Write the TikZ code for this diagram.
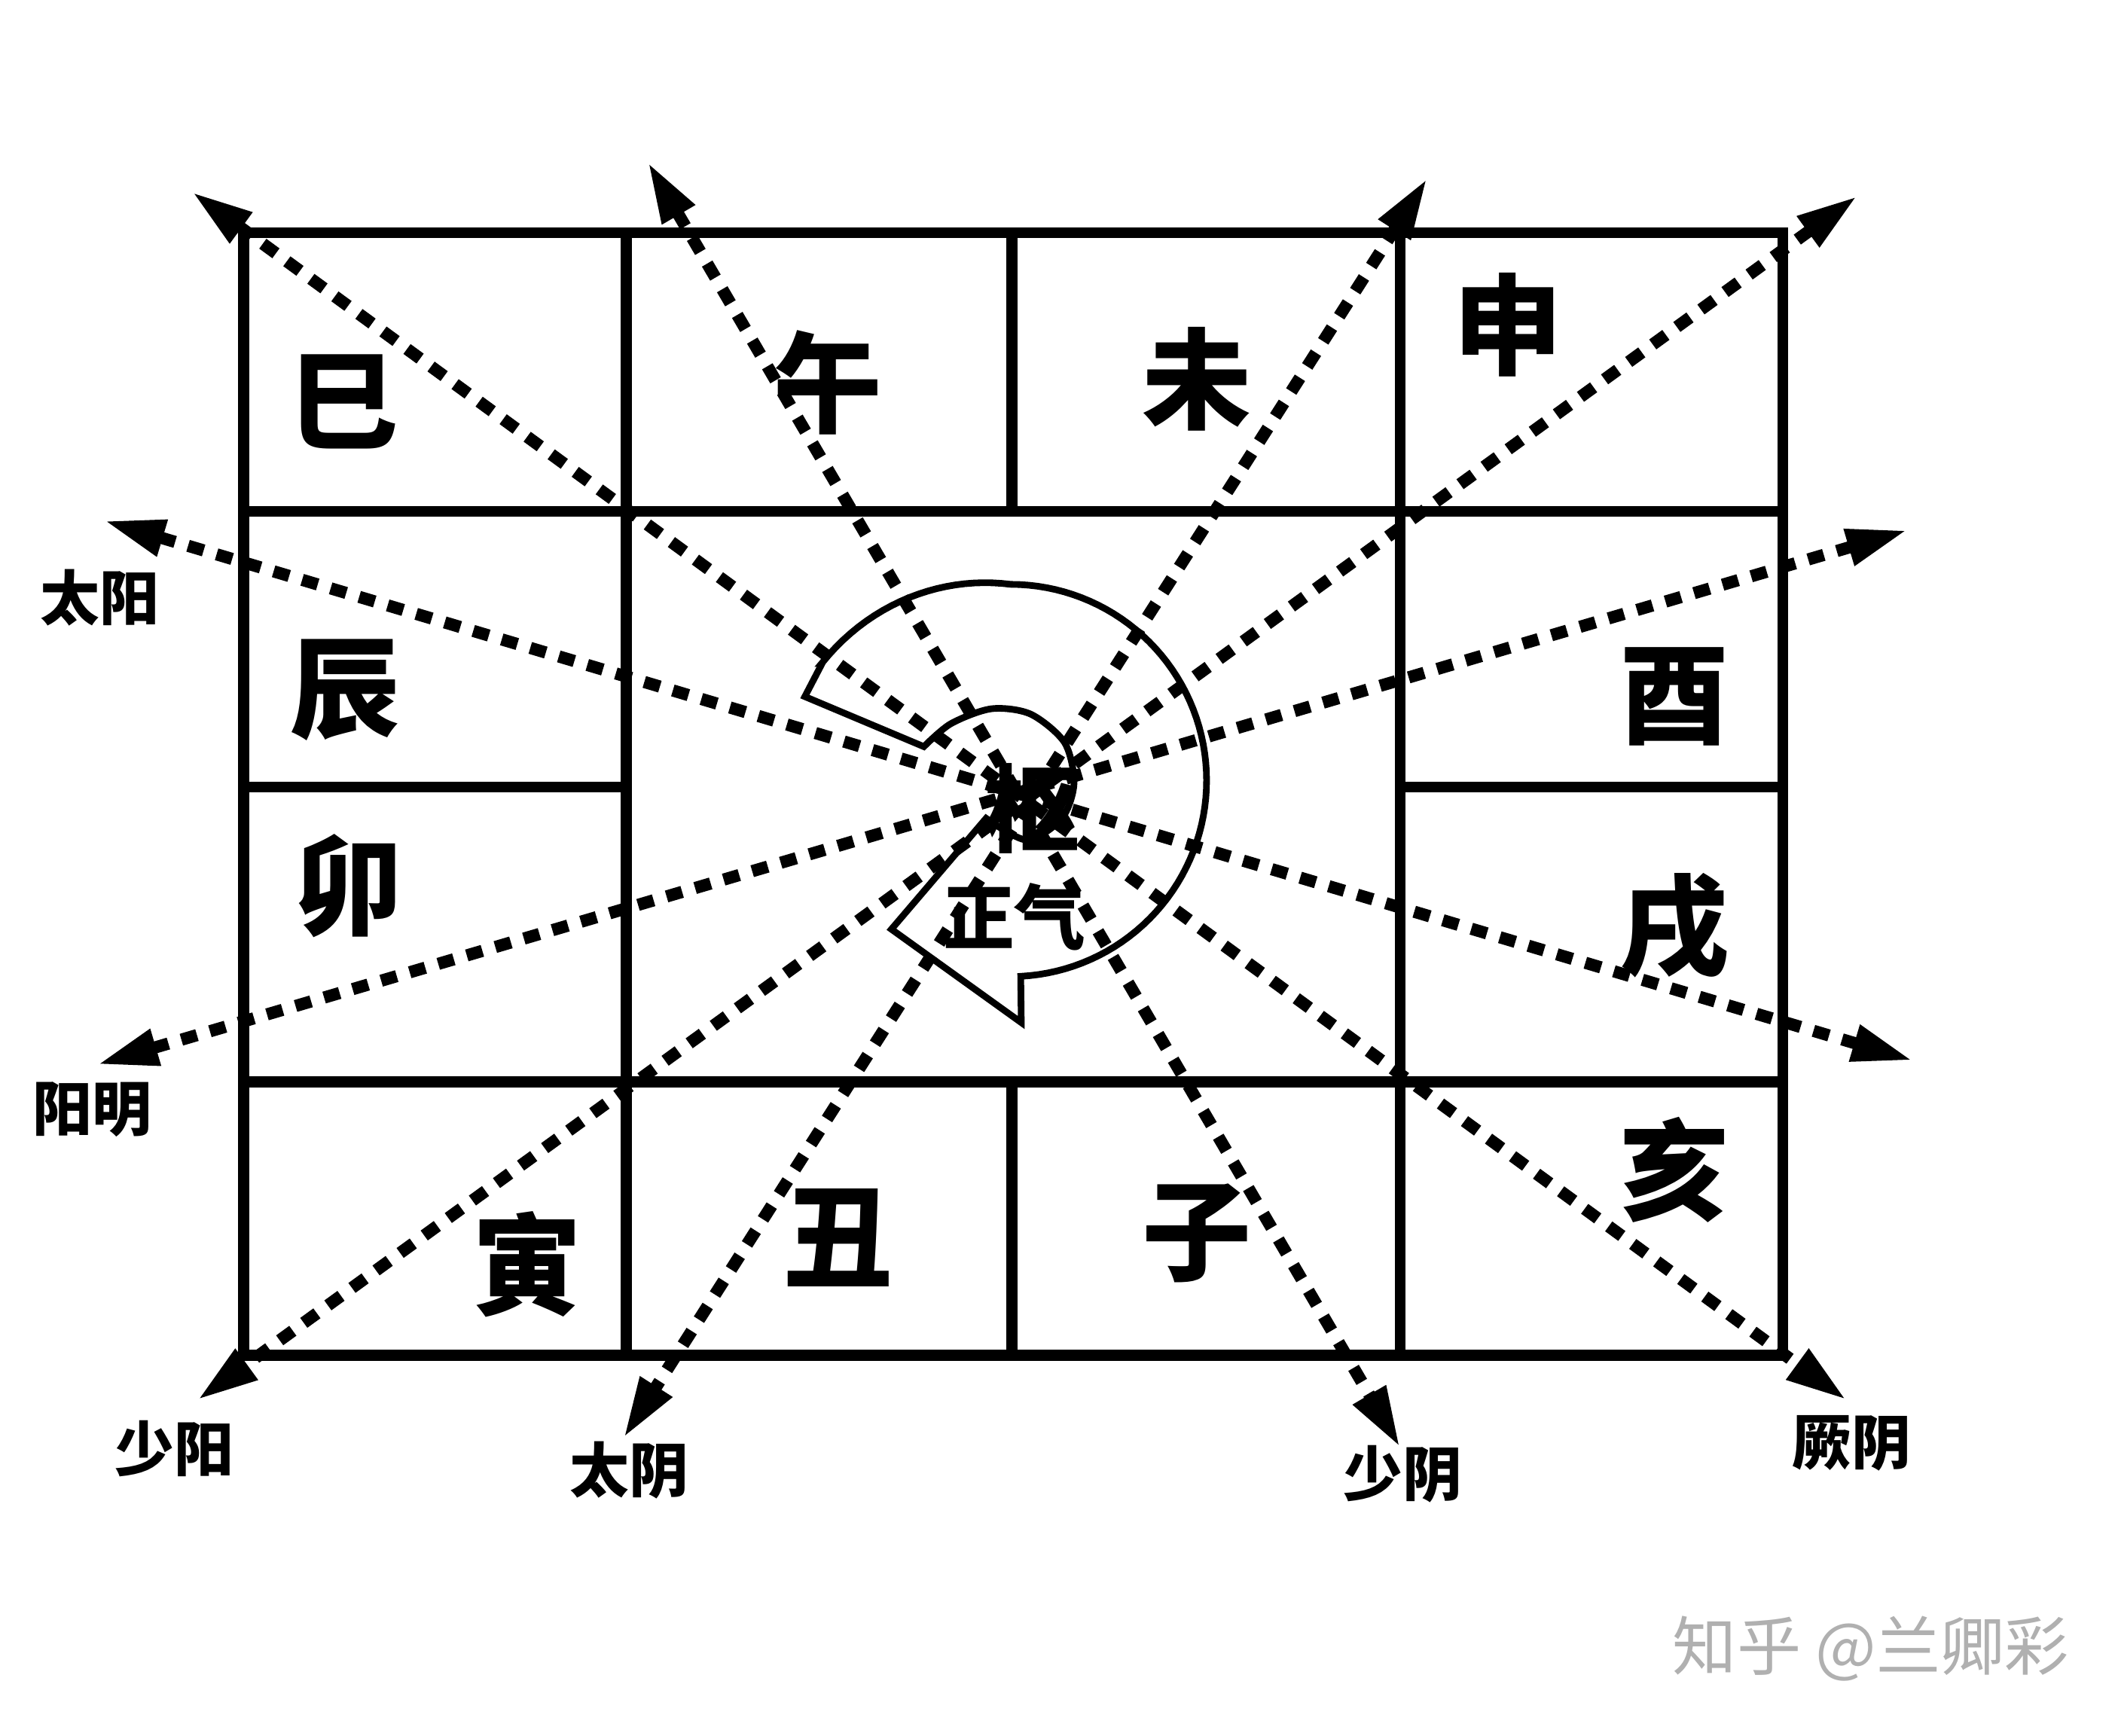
\documentclass[tikz,border=0pt]{standalone}
\usepackage{fontspec}
\usepackage{tikz}
\usetikzlibrary{arrows.meta}
\newfontfamily\heiti{Noto Sans CJK SC}[BoldFont={Noto Sans CJK SC Black}]
\newfontfamily\wmfont{Noto Sans CJK SC}
\definecolor{watergray}{HTML}{B0B0B0}
\tikzset{
    cellline/.style={line width=2.3pt, black},
    ray/.style={{Triangle[length=4.5mm, width=2.6mm]}-{Triangle[length=4.5mm, width=2.6mm]}, line width=0.9mm, dash pattern=on 1.2mm off 1mm},
    spiral/.style={line width=1.4pt, line join=miter},
    branch/.style={font=\heiti\bfseries\fontsize{23}{23}\selectfont, inner sep=0pt},
    meridian/.style={font=\heiti\bfseries\fontsize{12.5}{12.5}\selectfont, inner sep=0pt}
}

\begin{document}
\begin{tikzpicture}[x=0.1mm, y=-0.1mm]
    \path[fill=white] (0,0) rectangle (1568,1283);
    \useasboundingbox (0,0) rectangle (1568,1283);
    % 十二宫格
    \draw[cellline] (180,172) rectangle (1318,1002);
    \draw[cellline] (463,172) -- (463,1002); \draw[cellline] (1035,172) -- (1035,1002);
    \draw[cellline] (748,172) -- (748,378); \draw[cellline] (748,800) -- (748,1002);
    \draw[cellline] (180,378) -- (1318,378); \draw[cellline] (180,800) -- (1318,800);
    \draw[cellline] (180,582) -- (463,582); \draw[cellline] (1035,582) -- (1318,582);

    % 旋转的箭头
    \draw[spiral] (595,515) -- (608,490)
        -- plot[domain=212:447, samples=90, variable=\t]
            ({747+(145+0.33*max(0,270-\t))*cos(\t)}, {577+(145+0.33*max(0,270-\t))*sin(\t)})
        -- (755,756) -- (659,687) -- (729,605)
        -- plot[smooth] coordinates {(729,605) (759,621) (785,605) (794,579) (787,549) (762,528) (733,524) (703,535) (683,552)}
        -- cycle;

    % 六条经线
    \coordinate (tl) at (142,142);  \coordinate (br) at (1365,1035);
    \coordinate (tw) at (479,120);  \coordinate (bs) at (1035,1070);
    \coordinate (tv) at (1055,132); \coordinate (bt) at (461,1063);
    \coordinate (tr) at (1373,145); \coordinate (bl) at (146,1035);
    \coordinate (ly) at (77,385);   \coordinate (rl) at (1414,784);
    \coordinate (lm) at (72,787);   \coordinate (ru) at (1410,392);
    \draw[ray] (tl) -- (br);
    \draw[ray] (tw) -- (bs);
    \draw[ray] (tv) -- (bt);
    \draw[ray] (tr) -- (bl);
    \draw[ray] (ly) -- (rl);
    \draw[ray] (lm) -- (ru);

    \node[branch] (si) at (254,297) {巳};
    \node[branch] (wu) at (612,283) {午};
    \node[branch] (wei) at (885,280) {未};
    \node[branch] (shen) at (1115,240) {申};
    \node[branch] (chen) at (255,510) {辰};
    \node[branch] (mao) at (258,655) {卯};
    \node[branch] (you) at (1238,515) {酉};
    \node[branch] (xu) at (1238,685) {戌};
    \node[branch] (hai) at (1238,865) {亥};
    \node[branch] (yin) at (390,935) {寅};
    \node[branch] (chou) at (620,915) {丑};
    \node[branch] (zi) at (885,912) {子};

    \node[meridian] (taiyang) at (74,442) {太阳};
    \node[meridian] (yangming) at (68,820) {阳明};
    \node[meridian] (shaoyang) at (129,1071) {少阳};
    \node[meridian] (taiyin) at (465,1087) {太阴};
    \node[meridian] (shaoyin) at (1037,1090) {少阴};
    \node[meridian] (jueyin) at (1369,1067) {厥阴};

    \node[branch, font=\heiti\bfseries\fontsize{20}{20}\selectfont] (shu) at (763,598) {枢};
    \node[meridian, font=\heiti\bfseries\fontsize{15}{15}\selectfont] (zhengqi) at (750,678) {正气};

    \node[font=\wmfont\fontsize{13.5}{13.5}\selectfont, text=watergray, inner sep=0pt] (mark) at (1383,1219) {知乎 @兰卿彩};
\end{tikzpicture}
\end{document}
